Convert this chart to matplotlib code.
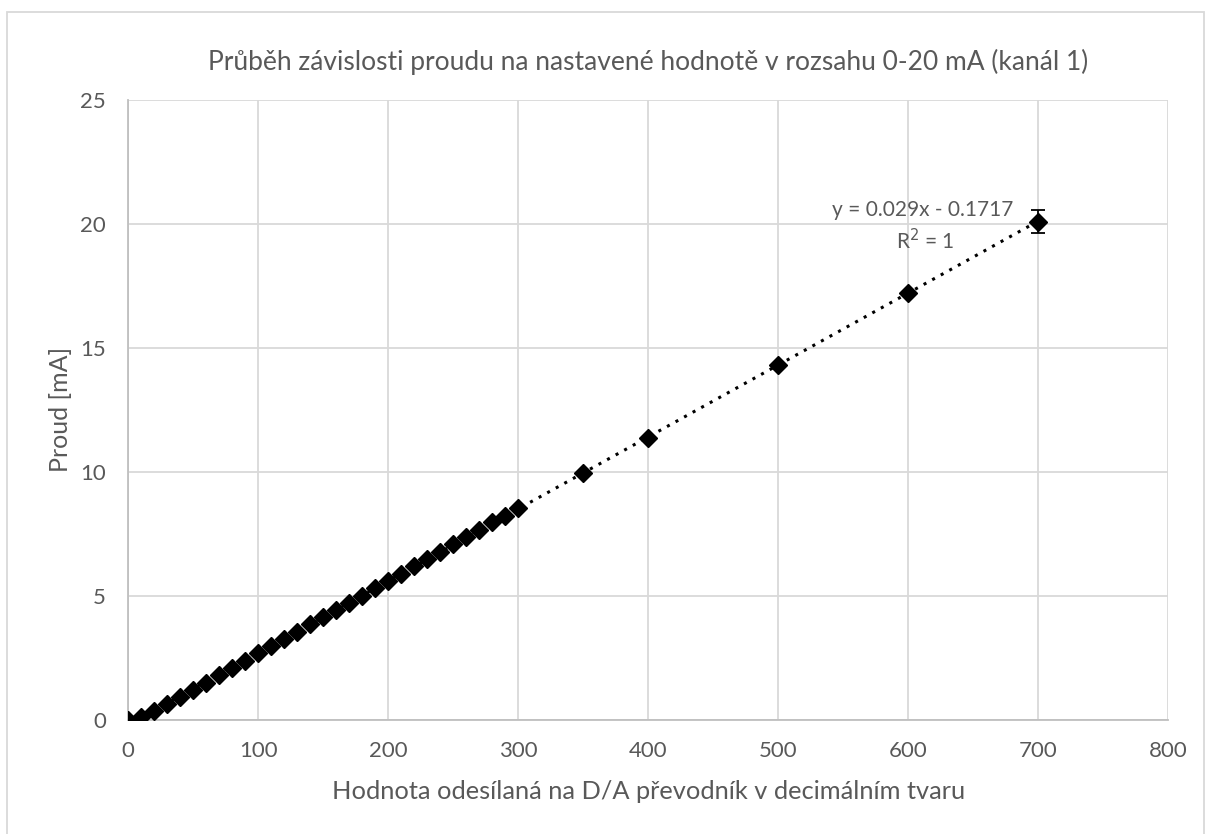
import numpy as np
import matplotlib.pyplot as plt

plt.rcParams['font.family'] = ['Lato', 'DejaVu Sans']

# hodnoty D/A a namereny proud
x_val = [0, 10, 20, 30, 40, 50, 60, 70, 80, 90,
         100, 110, 120, 130, 140, 150, 160, 170, 180, 190,
         200, 210, 220, 230, 240, 250, 260, 270, 280, 290,
         300, 350, 400, 500, 600, 700]
proud = [0.0, 0.1, 0.36, 0.64, 0.92, 1.2, 1.5, 1.79, 2.08, 2.38,
         2.69, 2.97, 3.26, 3.55, 3.85, 4.15, 4.43, 4.72, 5.01, 5.3,
         5.6, 5.88, 6.19, 6.49, 6.78, 7.08, 7.37, 7.66, 7.96, 8.24,
         8.54, 9.95, 11.38, 14.32, 17.2, 20.1]
err_x = [700]
err_y = [20.1]
err = [0.45]

text_c = '#595959'
grid_c = '#d9d9d9'

fig = plt.figure(figsize=(12.08, 8.34), dpi=100)
ax = fig.add_axes([0.106, 0.137, 0.861, 0.743])

# trendline
k, q = np.polyfit(x_val, proud, 1)
xt = np.array([0, 700])
ax.plot(xt, k * xt + q, color='black', linestyle=(0, (1, 2.2)), linewidth=2.2, zorder=2)

ax.plot(x_val, proud, linestyle='none', marker='D', markersize=9.5,
        color='black', zorder=3)
ax.errorbar(err_x, err_y, yerr=err, fmt='none', ecolor='black',
            elinewidth=1.3, capsize=4.7, capthick=1.3, zorder=3)

ax.text(611, 20.56, 'y = 0.029x - 0.1717', ha='center', va='center',
        color=text_c, fontsize=15)
ax.text(613, 19.35, 'R$^2$ = 1', ha='center', va='center',
        color=text_c, fontsize=15)

ax.set_xlim(0, 800)
ax.set_ylim(0, 25)
ax.set_xticks(range(0, 801, 100))
ax.set_yticks(range(0, 26, 5))
ax.grid(True, color=grid_c, linewidth=1.3)
ax.set_axisbelow(True)
for s in ['top', 'right']:
    ax.spines[s].set_visible(False)
for s in ['left', 'bottom']:
    ax.spines[s].set_color('#bfbfbf')
    ax.spines[s].set_linewidth(1.3)
ax.tick_params(length=0, labelsize=16, labelcolor=text_c, pad=15)
ax.tick_params(axis='y', pad=16)

ax.set_title('Průběh závislosti proudu na nastavené hodnotě v rozsahu 0-20 mA (kanál 1)',
             color=text_c, fontsize=19, pad=22)
ax.set_xlabel('Hodnota odesílaná na D/A převodník v decimálním tvaru',
              color=text_c, fontsize=18.3, labelpad=14)
ax.set_ylabel('Proud [mA]', color=text_c, fontsize=18, labelpad=6)

# ramecek grafu
fig.patches.append(plt.Rectangle((7 / 1208, -0.01), 1197 / 1208, 1 - 12 / 834 + 0.01,
                                 transform=fig.transFigure, fill=False,
                                 edgecolor='#d9d9d9', linewidth=1.3))

fig.savefig('out.png', dpi=100)
